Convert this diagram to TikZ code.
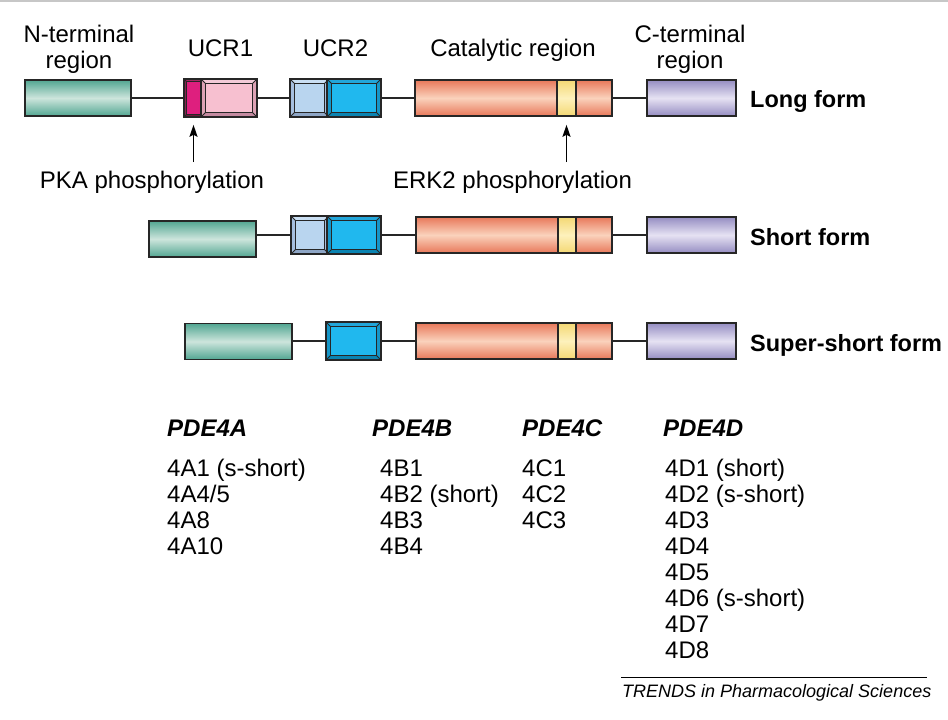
\documentclass[tikz,border=0pt]{standalone}
\usepackage{fontspec}
\setmainfont{Liberation Sans}
\usetikzlibrary{calc,arrows.meta}
\definecolor{boxc}{HTML}{262626}
\definecolor{tealE}{HTML}{52A692}
\definecolor{tealM}{HTML}{CDE5DC}
\definecolor{salE}{HTML}{E8785A}
\definecolor{salM}{HTML}{FAD2BC}
\definecolor{yelE}{HTML}{F4D874}
\definecolor{yelM}{HTML}{FDF1BC}
\definecolor{lavE}{HTML}{958DC2}
\definecolor{lavM}{HTML}{E6E2F3}
\definecolor{dpIn}{HTML}{DE1F7E}
\definecolor{dpTop}{HTML}{A32A62}
\definecolor{dpBot}{HTML}{6E1A3A}
\definecolor{dpSide}{HTML}{8A2350}
\definecolor{lpIn}{HTML}{F7C0D0}
\definecolor{lpTop}{HTML}{F3CAD7}
\definecolor{lpBot}{HTML}{C48AA0}
\definecolor{lpSide}{HTML}{DDA2B5}
\definecolor{lbIn}{HTML}{B9D5EF}
\definecolor{lbTop}{HTML}{CADFF3}
\definecolor{lbBot}{HTML}{8EA6C6}
\definecolor{lbSide}{HTML}{A6BFDF}
\definecolor{bIn}{HTML}{20B8EE}
\definecolor{bTop}{HTML}{22A6DA}
\definecolor{bBot}{HTML}{0A84B2}
\definecolor{bSide}{HTML}{1596C8}
\newcommand\bevelbox[7]{%
  \fill[#5] (#1.north west) rectangle (#1.south east);
  \fill[#3] (#1.north west) -- (#1.north east) -- ($(#1.north east)+(-#2,#2)$) -- ($(#1.north west)+(#2,#2)$) -- cycle;
  \fill[#4] (#1.south west) -- (#1.south east) -- ($(#1.south east)+(-#2,-#2)$) -- ($(#1.south west)+(#2,-#2)$) -- cycle;
  \draw[boxc, line width=#7, fill=#6] ($(#1.north west)+(#2,#2)$) rectangle ($(#1.south east)+(-#2,-#2)$);
  \draw[boxc, line width=0.8pt] (#1.north west) -- ++(#2,#2) (#1.north east) -- ++(-#2,#2)
     (#1.south west) -- ++(#2,-#2) (#1.south east) -- ++(-#2,-#2);
  \draw[boxc, line width=1.6pt] (#1.north west) rectangle (#1.south east);
}
\begin{document}
\begin{tikzpicture}[x=1pt,y=-1pt,
  seg/.style={rectangle, draw=boxc, line width=1.6pt, inner sep=0pt, minimum height=36pt},
  nterm/.style={seg, top color=tealE, bottom color=tealE, middle color=tealM},
  catal/.style={seg, top color=salE, bottom color=salE, middle color=salM},
  erkb/.style={seg, top color=yelE, bottom color=yelE, middle color=yelM},
  cterm/.style={seg, top color=lavE, bottom color=lavE, middle color=lavM},
  ucr/.style={seg},
  link/.style={boxc, line width=1.5pt},
  arr/.style={black, line width=1.5pt, -{Stealth[length=12pt,width=8pt,inset=2pt]}},
  lab/.style={inner sep=0pt, anchor=base, font=\fontsize{24}{26}\selectfont},
  formlab/.style={inner sep=0pt, anchor=base west, font=\fontsize{23.5}{26}\selectfont\bfseries},
  gene/.style={inner sep=0pt, anchor=base west, font=\fontsize{24}{26}\selectfont\bfseries\itshape},
  item/.style={inner sep=0pt, anchor=base west, font=\fontsize{24}{26}\selectfont}]
\useasboundingbox (0,0) rectangle (948,720);
\draw[black!22, line width=2pt] (0,1) -- (948,1);

% ---------- Long form ----------
\node[nterm, minimum width=106pt] (nL) at (78,98) {};
\node[ucr, minimum width=17pt] (u1aL) at (193.5,98) {};
\node[ucr, minimum width=54pt] (u1bL) at (229,98) {};
\node[ucr, minimum width=37pt] (u2aL) at (309.5,98) {};
\node[ucr, minimum width=52pt] (u2bL) at (354,98) {};
\node[catal, minimum width=197pt] (catL) at (513.5,98) {};
\node[erkb, minimum width=19pt] (yL) at (566.5,98) {};
\node[cterm, minimum width=89pt] (cL) at (691.5,98) {};
\bevelbox{u1aL}{2.5}{dpTop}{dpBot}{dpSide}{dpIn}{0.9pt}
\bevelbox{u1bL}{4.5}{lpTop}{lpBot}{lpSide}{lpIn}{1.2pt}
\bevelbox{u2aL}{4.5}{lbTop}{lbBot}{lbSide}{lbIn}{1.2pt}
\bevelbox{u2bL}{4.5}{bTop}{bBot}{bSide}{bIn}{1.2pt}
\draw[link] (nL.east) -- (u1aL.west);
\draw[link] (u1bL.east) -- (u2aL.west);
\draw[link] (u2bL.east) -- (catL.west);
\draw[link] (catL.east) -- (cL.west);
\node[formlab] (lf) at (750,107.5) {Long form};

% labels
\node[lab] (nt1) at (79,42) {N-terminal};
\node[lab] (nt2) at (79,68) {region};
\node[lab] (ucr1) at (220.5,56) {UCR1};
\node[lab] (ucr2) at (335.5,56) {UCR2};
\node[lab] (catlab) at (513,56) {Catalytic region};
\node[lab] (ct1) at (690,42) {C-terminal};
\node[lab] (ct2) at (690,68) {region};

\node[lab] (pka) at (152,188) {PKA phosphorylation};
\node[lab] (erk) at (512.5,188) {ERK2 phosphorylation};
\coordinate (pkaT) at (193.5,162);
\coordinate (erkT) at (566.5,162);
\draw[arr, shorten >=8pt] (pkaT) -- (u1aL.south);
\draw[arr, shorten >=8pt] (erkT) -- (yL.south);

% ---------- Short form ----------
\node[nterm, minimum width=107pt] (nS) at (202.5,239) {};
\node[ucr, minimum width=36pt] (u2aS) at (310,235) {};
\node[ucr, minimum width=52pt] (u2bS) at (354,235) {};
\node[catal, minimum width=196pt] (catS) at (514,235) {};
\node[erkb, minimum width=18pt] (yS) at (567,235) {};
\node[cterm, minimum width=89pt] (cS) at (691.5,235) {};
\bevelbox{u2aS}{4.5}{lbTop}{lbBot}{lbSide}{lbIn}{1.2pt}
\bevelbox{u2bS}{4.5}{bTop}{bBot}{bSide}{bIn}{1.2pt}
\draw[link] (nS.east |- u2aS.west) -- (u2aS.west);
\draw[link] (u2bS.east) -- (catS.west);
\draw[link] (catS.east) -- (cS.west);
\node[formlab] (sf) at (750,245) {Short form};

% ---------- Super-short form ----------
\node[nterm, minimum width=107pt] (nSS) at (238.5,341.5) {};
\node[ucr, minimum width=53pt] (u2bSS) at (353.5,341) {};
\node[catal, minimum width=196pt] (catSS) at (514,341) {};
\node[erkb, minimum width=18pt] (ySS) at (567,341) {};
\node[cterm, minimum width=89pt] (cSS) at (691.5,341) {};
\bevelbox{u2bSS}{4.5}{bTop}{bBot}{bSide}{bIn}{1.2pt}
\draw[link] (nSS.east |- u2bSS.west) -- (u2bSS.west);
\draw[link] (u2bSS.east) -- (catSS.west);
\draw[link] (catSS.east) -- (cSS.west);
\node[formlab] (ssf) at (750,351) {Super-short form};

% ---------- Gene lists ----------
\node[gene] (ga) at (167,436) {PDE4A};
\node[gene] (gb) at (372,436) {PDE4B};
\node[gene] (gc) at (522,436) {PDE4C};
\node[gene] (gd) at (663,436) {PDE4D};

\node[item] (a1) at (167,476) {4A1 (s-short)};
\node[item] (a2) at (167,502) {4A4/5};
\node[item] (a3) at (167,528) {4A8};
\node[item] (a4) at (167,554) {4A10};

\node[item] (b1) at (380,476) {4B1};
\node[item] (b2) at (380,502) {4B2 (short)};
\node[item] (b3) at (380,528) {4B3};
\node[item] (b4) at (380,554) {4B4};

\node[item] (c1) at (522,476) {4C1};
\node[item] (c2) at (522,502) {4C2};
\node[item] (c3) at (522,528) {4C3};

\node[item] (d1) at (665,476) {4D1 (short)};
\node[item] (d2) at (665,502) {4D2 (s-short)};
\node[item] (d3) at (665,528) {4D3};
\node[item] (d4) at (665,554) {4D4};
\node[item] (d5) at (665,580) {4D5};
\node[item] (d6) at (665,606) {4D6 (s-short)};
\node[item] (d7) at (665,632) {4D7};
\node[item] (d8) at (665,658) {4D8};

% ---------- Footer ----------
\draw[black, line width=1pt] (621,677) -- (927,677);
\node[inner sep=0pt, anchor=base west, font=\fontsize{18}{20}\selectfont\itshape] (trends) at (622,697) {TRENDS in Pharmacological Sciences};
\end{tikzpicture}
\end{document}
